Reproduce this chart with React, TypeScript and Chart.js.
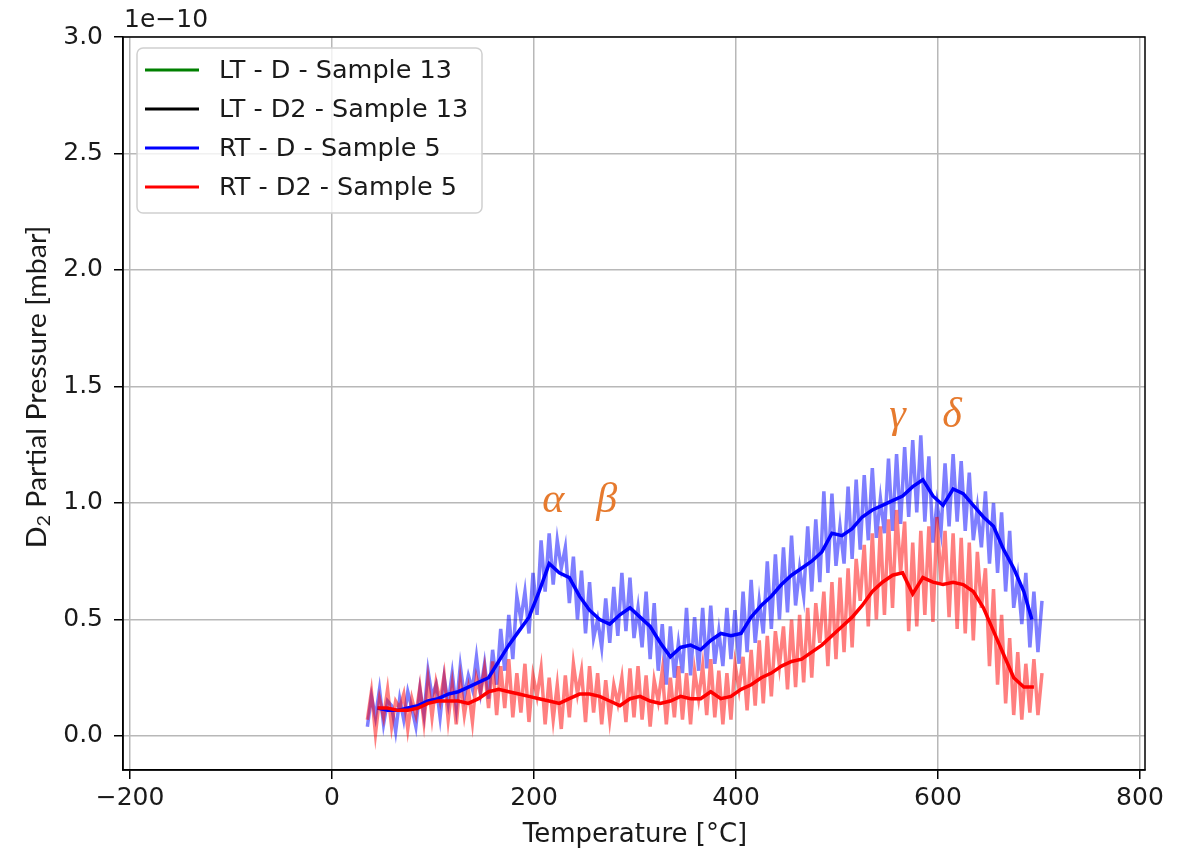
import { useEffect, useRef } from "react";
import { Chart, registerables } from "chart.js";

Chart.register(...registerables);

// ---- Axes -----------------------------------------------------------------
const X_MIN = -207;
const X_MAX = 805;
const Y_MIN = -0.146;
const Y_MAX = 3.0;
const X_TICKS = [-200, 0, 200, 400, 600, 800];
const X_TICK_LABELS = ["\u2212200", "0", "200", "400", "600", "800"];
const Y_TICKS = [0, 0.5, 1.0, 1.5, 2.0, 2.5, 3.0];
const Y_TICK_LABELS = ["0.0", "0.5", "1.0", "1.5", "2.0", "2.5", "3.0"];
const X_TITLE = "Temperature [°C]";
const Y_TITLE_MAIN = "D";
const Y_TITLE_SUB = "2";
const Y_TITLE_REST = " Partial Pressure [mbar]";
const Y_OFFSET_LABEL = "1e\u221210";

// ---- Series -----------------------------------------------------------------
const SERIES_LABELS = [
  "LT - D - Sample 13",
  "LT - D2 - Sample 13",
  "RT - D - Sample 5",
  "RT - D2 - Sample 5",
];
const SERIES_COLORS = ["#008000", "#000000", "#0000ff", "#ff0000"];

// raw (noisy) signal, temperature in °C, pressure in units of 1e-10 mbar
const RAW_T = [
  35, 39, 43, 47, 51, 55, 59, 63, 67, 71,
  75, 79, 83, 87, 91, 95, 99, 103, 107, 111,
  115, 119, 123, 127, 131, 135, 139, 143, 147, 151,
  155, 159, 163, 167, 171, 175, 179, 183, 187, 191,
  195, 199, 203, 207, 211, 215, 219, 223, 227, 231,
  235, 239, 243, 247, 251, 255, 259, 263, 267, 271,
  275, 279, 283, 287, 291, 295, 299, 303, 307, 311,
  315, 319, 323, 327, 331, 335, 339, 343, 347, 351,
  355, 359, 363, 367, 371, 375, 379, 383, 387, 391,
  395, 399, 403, 407, 411, 415, 419, 423, 427, 431,
  435, 439, 443, 447, 451, 455, 459, 463, 467, 471,
  475, 479, 483, 487, 491, 495, 499, 503, 507, 511,
  515, 519, 523, 527, 531, 535, 539, 543, 547, 551,
  555, 559, 563, 567, 571, 575, 579, 583, 587, 591,
  595, 599, 603, 607, 611, 615, 619, 623, 627, 631,
  635, 639, 643, 647, 651, 655, 659, 663, 667, 671,
  675, 679, 683, 687, 691, 695, 699, 703,
];
const RT_D_RAW = [
  0.04, 0.17, 0.08, 0.20, 0.05, 0.15, 0.13, 0.02, 0.16, 0.07,
  0.19, 0.12, 0.04, 0.20, 0.09, 0.28, 0.17, 0.22, 0.08, 0.25,
  0.14, 0.27, 0.12, 0.30, 0.17, 0.26, 0.20, 0.34, 0.19, 0.31,
  0.16, 0.37, 0.22, 0.46, 0.28, 0.52, 0.33, 0.60, 0.50, 0.62,
  0.44, 0.70, 0.52, 0.84, 0.62, 0.87, 0.65, 0.84, 0.72, 0.81,
  0.57, 0.77, 0.50, 0.71, 0.44, 0.66, 0.42, 0.50, 0.38, 0.59,
  0.40, 0.64, 0.43, 0.70, 0.45, 0.68, 0.42, 0.55, 0.38, 0.62,
  0.33, 0.57, 0.28, 0.48, 0.22, 0.47, 0.25, 0.40, 0.27, 0.55,
  0.26, 0.51, 0.28, 0.55, 0.29, 0.56, 0.31, 0.45, 0.30, 0.55,
  0.33, 0.54, 0.31, 0.62, 0.36, 0.67, 0.40, 0.58, 0.44, 0.75,
  0.46, 0.78, 0.50, 0.81, 0.53, 0.86, 0.56, 0.72, 0.60, 0.90,
  0.62, 0.93, 0.66, 1.05, 0.70, 1.04, 0.73, 0.90, 0.74, 1.07,
  0.76, 1.10, 0.80, 1.12, 0.84, 1.15, 0.85, 1.02, 0.87, 1.19,
  0.88, 1.21, 0.91, 1.24, 0.94, 1.27, 0.96, 1.29, 0.92, 1.20,
  0.83, 1.00, 0.88, 1.17, 0.90, 1.21, 0.92, 1.18, 0.88, 1.13,
  0.84, 0.98, 0.81, 1.05, 0.74, 1.00, 0.70, 0.96, 0.62, 0.88,
  0.55, 0.68, 0.48, 0.70, 0.38, 0.62, 0.36, 0.58,
];
const RT_D2_RAW = [
  0.07, 0.19, 0.01, 0.16, 0.08, 0.20, 0.04, 0.15, 0.12, 0.18,
  0.03, 0.16, 0.09, 0.21, 0.06, 0.24, 0.08, 0.23, 0.15, 0.26,
  0.07, 0.22, 0.05, 0.24, 0.09, 0.20, 0.06, 0.25, 0.18, 0.29,
  0.12, 0.32, 0.09, 0.30, 0.12, 0.33, 0.08, 0.27, 0.10, 0.31,
  0.06, 0.26, 0.17, 0.29, 0.05, 0.25, 0.07, 0.22, 0.03, 0.26,
  0.08, 0.31, 0.18, 0.28, 0.06, 0.30, 0.10, 0.27, 0.05, 0.24,
  0.07, 0.22, 0.14, 0.25, 0.06, 0.29, 0.08, 0.30, 0.07, 0.26,
  0.04, 0.24, 0.15, 0.28, 0.05, 0.25, 0.08, 0.30, 0.07, 0.27,
  0.05, 0.28, 0.16, 0.30, 0.09, 0.33, 0.08, 0.28, 0.05, 0.27,
  0.07, 0.31, 0.20, 0.34, 0.11, 0.37, 0.13, 0.41, 0.14, 0.43,
  0.17, 0.45, 0.30, 0.47, 0.20, 0.50, 0.21, 0.52, 0.23, 0.55,
  0.25, 0.57, 0.40, 0.62, 0.30, 0.66, 0.33, 0.68, 0.36, 0.72,
  0.38, 0.76, 0.58, 0.82, 0.47, 0.87, 0.50, 0.90, 0.52, 0.93,
  0.55, 0.97, 0.70, 0.92, 0.45, 0.83, 0.47, 0.88, 0.52, 0.90,
  0.49, 0.94, 0.66, 0.88, 0.51, 0.87, 0.46, 0.85, 0.44, 0.83,
  0.41, 0.79, 0.55, 0.72, 0.30, 0.63, 0.22, 0.52, 0.14, 0.42,
  0.09, 0.36, 0.07, 0.31, 0.10, 0.33, 0.09, 0.27,
];

// smoothed signal
const RT_D_SMOOTH_T = [
  45, 55, 65, 75, 85, 95, 105, 115, 125, 135,
  145, 155, 165, 175, 185, 195, 205, 215, 225, 235,
  245, 255, 265, 275, 285, 295, 305, 315, 325, 335,
  345, 355, 365, 375, 385, 395, 405, 415, 425, 435,
  445, 455, 465, 475, 485, 495, 505, 515, 525, 535,
  545, 555, 565, 575, 585, 595, 605, 615, 625, 635,
  645, 655, 665, 675, 685, 693,
];
const RT_D_SMOOTH = [
  0.12, 0.11, 0.11, 0.12, 0.13, 0.15, 0.16, 0.18, 0.19, 0.21,
  0.23, 0.25, 0.32, 0.39, 0.45, 0.51, 0.62, 0.74, 0.70, 0.68,
  0.60, 0.54, 0.50, 0.48, 0.52, 0.55, 0.51, 0.47, 0.40, 0.34,
  0.38, 0.39, 0.37, 0.41, 0.44, 0.43, 0.44, 0.51, 0.56, 0.60,
  0.65, 0.69, 0.72, 0.75, 0.79, 0.87, 0.86, 0.89, 0.94, 0.97,
  0.99, 1.01, 1.03, 1.07, 1.10, 1.03, 0.99, 1.06, 1.04, 0.99,
  0.94, 0.90, 0.80, 0.72, 0.62, 0.50,
];
const RT_D2_SMOOTH_T = [
  45, 55, 65, 75, 85, 95, 105, 115, 125, 135,
  145, 155, 165, 175, 185, 195, 205, 215, 225, 235,
  245, 255, 265, 275, 285, 295, 305, 315, 325, 335,
  345, 355, 365, 375, 385, 395, 405, 415, 425, 435,
  445, 455, 465, 475, 485, 495, 505, 515, 525, 535,
  545, 555, 565, 575, 585, 595, 605, 615, 625, 635,
  645, 655, 665, 675, 685, 695,
];
const RT_D2_SMOOTH = [
  0.12, 0.12, 0.11, 0.11, 0.12, 0.14, 0.15, 0.15, 0.15, 0.14,
  0.16, 0.19, 0.20, 0.19, 0.18, 0.17, 0.16, 0.15, 0.14, 0.16,
  0.18, 0.18, 0.17, 0.15, 0.13, 0.16, 0.17, 0.15, 0.14, 0.15,
  0.17, 0.16, 0.16, 0.19, 0.16, 0.17, 0.20, 0.22, 0.25, 0.27,
  0.30, 0.32, 0.33, 0.36, 0.39, 0.43, 0.47, 0.51, 0.56, 0.62,
  0.66, 0.69, 0.70, 0.61, 0.68, 0.66, 0.65, 0.66, 0.65, 0.62,
  0.55, 0.45, 0.35, 0.25, 0.21, 0.21,
];

// ---- Peak annotations ----------------------------------------------------
const ANNOT_LABELS = ["α", "β", "γ", "δ"];
const ANNOT_X = [219, 272, 560, 614];
const ANNOT_Y = [1.01, 1.01, 1.375, 1.375];

const FONT = "'DejaVu Sans', sans-serif";
const TEXT_COLOR = "#1a1a1a";

function pts(xs: number[], ys: number[]) {
  return xs.map((x, i) => ({ x, y: ys[i] }));
}

const overlayPlugin = {
  id: "overlay",
  afterDraw(chart: any) {
    const ctx = chart.ctx;
    const { left, right, top, bottom } = chart.chartArea;
    const xs = chart.scales.x;
    const ys = chart.scales.y;
    ctx.save();

    // frame (top / right)
    ctx.strokeStyle = "#000";
    ctx.lineWidth = 1.5;
    ctx.strokeRect(left, top, right - left, bottom - top);

    // annotations
    ctx.fillStyle = "#e67a2e";
    ctx.font = "italic 42px 'Liberation Serif', 'DejaVu Serif', serif";
    ctx.textAlign = "center";
    ctx.textBaseline = "middle";
    ANNOT_LABELS.forEach((t, i) => {
      ctx.fillText(t, xs.getPixelForValue(ANNOT_X[i]), ys.getPixelForValue(ANNOT_Y[i]));
    });

    // offset label
    ctx.fillStyle = TEXT_COLOR;
    ctx.font = `25px ${FONT}`;
    ctx.textAlign = "left";
    ctx.textBaseline = "alphabetic";
    ctx.fillText(Y_OFFSET_LABEL, left + 1, top - 10);

    // x axis title
    ctx.font = `26px ${FONT}`;
    ctx.textAlign = "center";
    ctx.textBaseline = "middle";
    ctx.fillText(X_TITLE, (left + right) / 2 + 1, 835);

    // y axis title with subscript
    const mainFont = "26px Lato, 'Open Sans', sans-serif";
    const subFont = "18px Lato, 'Open Sans', sans-serif";
    ctx.font = mainFont;
    const wD = ctx.measureText(Y_TITLE_MAIN).width;
    const wRest = ctx.measureText(Y_TITLE_REST).width;
    ctx.font = subFont;
    const wSub = ctx.measureText(Y_TITLE_SUB).width;
    const total = wD + wSub + wRest;
    ctx.save();
    ctx.translate(46, 387);
    ctx.rotate(-Math.PI / 2);
    ctx.scale(1.1, 1);
    ctx.textAlign = "left";
    ctx.textBaseline = "alphabetic";
    let cx = -total / 2;
    ctx.font = mainFont;
    ctx.fillText(Y_TITLE_MAIN, cx, 0);
    cx += wD;
    ctx.font = subFont;
    ctx.fillText(Y_TITLE_SUB, cx, 4);
    cx += wSub;
    ctx.font = mainFont;
    ctx.fillText(Y_TITLE_REST, cx, 0);
    ctx.restore();

    // legend
    const lx = 137, ly = 48, lw = 345, lh = 165, r = 6;
    ctx.beginPath();
    ctx.moveTo(lx + r, ly);
    ctx.arcTo(lx + lw, ly, lx + lw, ly + lh, r);
    ctx.arcTo(lx + lw, ly + lh, lx, ly + lh, r);
    ctx.arcTo(lx, ly + lh, lx, ly, r);
    ctx.arcTo(lx, ly, lx + lw, ly, r);
    ctx.closePath();
    ctx.fillStyle = "rgba(255,255,255,0.8)";
    ctx.fill();
    ctx.strokeStyle = "#d0d0d0";
    ctx.lineWidth = 1.5;
    ctx.stroke();
    const rowY = [70, 109, 148, 187];
    ctx.font = `25.5px ${FONT}`;
    ctx.textAlign = "left";
    ctx.textBaseline = "middle";
    SERIES_LABELS.forEach((lab, i) => {
      ctx.strokeStyle = SERIES_COLORS[i];
      ctx.lineWidth = 3;
      ctx.beginPath();
      ctx.moveTo(145, rowY[i]);
      ctx.lineTo(199, rowY[i]);
      ctx.stroke();
      ctx.fillStyle = TEXT_COLOR;
      ctx.fillText(lab, 219, rowY[i] + 1);
    });
    ctx.restore();
  },
};

export default function App() {
  const ref = useRef<HTMLCanvasElement | null>(null);
  useEffect(() => {
    if (!ref.current) return;
    const chart = new Chart(ref.current, {
      type: "line",
      data: {
        datasets: [
          { label: SERIES_LABELS[0], data: [], borderColor: SERIES_COLORS[0], order: 5 },
          { label: SERIES_LABELS[1], data: [], borderColor: SERIES_COLORS[1], order: 6 },
          {
            label: SERIES_LABELS[2] + " raw",
            data: pts(RAW_T, RT_D_RAW),
            borderColor: "rgba(0,0,255,0.5)",
            borderWidth: 3.5,
            order: 4,
          },
          {
            label: SERIES_LABELS[3] + " raw",
            data: pts(RAW_T, RT_D2_RAW),
            borderColor: "rgba(255,0,0,0.5)",
            borderWidth: 3.5,
            order: 3,
          },
          {
            label: SERIES_LABELS[2],
            data: pts(RT_D_SMOOTH_T, RT_D_SMOOTH),
            borderColor: SERIES_COLORS[2],
            borderWidth: 3.5,
            order: 2,
          },
          {
            label: SERIES_LABELS[3],
            data: pts(RT_D2_SMOOTH_T, RT_D2_SMOOTH),
            borderColor: SERIES_COLORS[3],
            borderWidth: 3.5,
            order: 1,
          },
        ],
      },
      options: {
        responsive: false,
        animation: false,
        devicePixelRatio: 1,
        elements: { point: { radius: 0 }, line: { tension: 0, fill: false } },
        layout: { padding: { top: 37, right: 38, left: 0, bottom: 0 } },
        plugins: { legend: { display: false }, tooltip: { enabled: false } },
        scales: {
          x: {
            type: "linear",
            min: X_MIN,
            max: X_MAX,
            afterFit: (s: any) => { s.height = 80; },
            afterBuildTicks: (s: any) => { s.ticks = X_TICKS.map((v) => ({ value: v })); },
            ticks: {
              callback: (v: any) => X_TICK_LABELS[X_TICKS.indexOf(Number(v))] ?? "",
              font: { family: FONT, size: 25 },
              color: TEXT_COLOR,
              padding: 4,
              maxRotation: 0,
            },
            grid: { color: "#b8b8b8", lineWidth: 1.5, tickLength: 9, tickColor: "#000", tickWidth: 1.5 },
            border: { color: "#000", width: 1.5 },
          },
          y: {
            type: "linear",
            min: Y_MIN,
            max: Y_MAX,
            afterFit: (s: any) => { s.width = 123; },
            afterBuildTicks: (s: any) => { s.ticks = Y_TICKS.map((v) => ({ value: v })); },
            ticks: {
              callback: (v: any) => Y_TICK_LABELS[Y_TICKS.indexOf(Number(v))] ?? "",
              font: { family: FONT, size: 25 },
              color: TEXT_COLOR,
              padding: 11,
            },
            grid: { color: "#b8b8b8", lineWidth: 1.5, tickLength: 9, tickColor: "#000", tickWidth: 1.5 },
            border: { color: "#000", width: 1.5 },
          },
        },
      },
      plugins: [overlayPlugin],
    } as any);
    return () => chart.destroy();
  }, []);
  return (
    <div style={{ position: "fixed", left: 0, top: 0, width: 1183, height: 850, background: "#fff" }}>
      <canvas ref={ref} width={1183} height={850} style={{ display: "block" }} />
    </div>
  );
}
